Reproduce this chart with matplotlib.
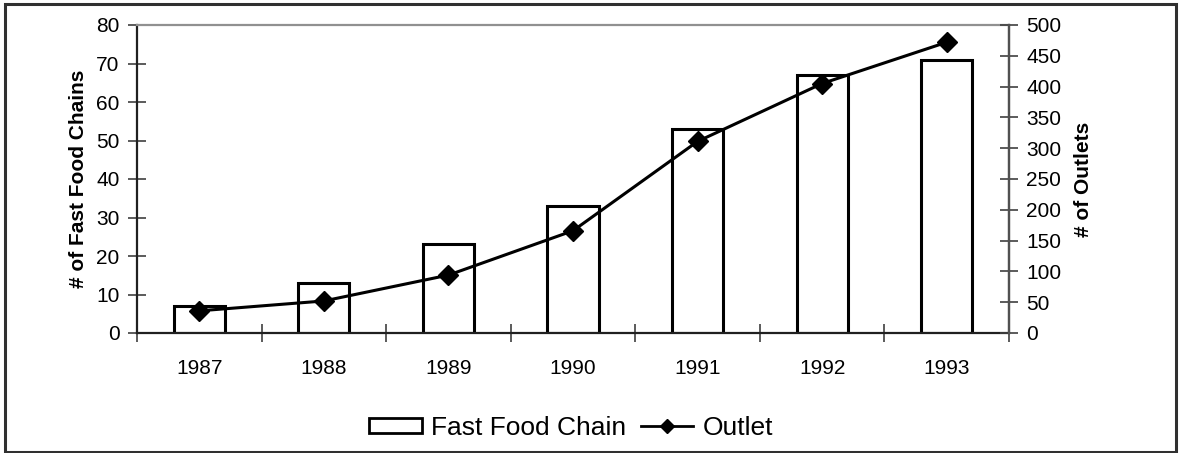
import matplotlib
matplotlib.use("Agg")
import matplotlib.pyplot as plt
from matplotlib.patches import Rectangle
from matplotlib.lines import Line2D
from matplotlib.patches import Patch

years = ["1987", "1988", "1989", "1990", "1991", "1992", "1993"]
chains = [7, 13, 23, 33, 53, 67, 71]
outlets = [36, 52, 94, 166, 311, 405, 472]

plt.rcParams['font.family'] = ['Liberation Sans', 'DejaVu Sans']
FS = 15

W, H = 1179, 453
fig = plt.figure(figsize=(W / 100, H / 100), dpi=100)
ax = fig.add_axes([137 / W, 1 - 333 / H, (1009 - 137) / W, (333 - 25) / H])

x = list(range(len(years)))
ax.bar(x, chains, width=0.41, facecolor='white', edgecolor='black', linewidth=2.2, zorder=2)
ax.set_xlim(-0.5, len(years) - 0.5)
ax.set_ylim(0, 80)
ax.set_yticks(range(0, 81, 10))

ax.set_xticks([i - 0.5 for i in range(len(years) + 1)])
ax.set_xticklabels([])
ax.set_xticks(x, minor=True)
ax.set_xticklabels(years, minor=True)
ax.tick_params(axis='x', which='major', direction='inout', length=13, width=1.2, color='#404040')
ax.tick_params(axis='x', which='minor', length=0, pad=19, labelsize=FS)
ax.tick_params(axis='y', direction='inout', length=13, width=1.2, color='#404040', pad=6, labelsize=FS)

for s in ['left', 'bottom']:
    ax.spines[s].set_color('#202020')
    ax.spines[s].set_linewidth(1.6)
ax.spines['top'].set_color('#909090')
ax.spines['top'].set_linewidth(1.6)
ax.spines['right'].set_color('#505050')
ax.spines['right'].set_linewidth(1.6)

ax.set_ylabel('# of Fast Food Chains', fontsize=15, fontweight='bold', labelpad=6)

ax2 = ax.twinx()
ax2.plot(x, outlets, color='black', linewidth=2.2, marker='D', markersize=10, zorder=3)
ax2.set_ylim(0, 500)
ax2.set_yticks(range(0, 501, 50))
ax2.tick_params(axis='y', direction='inout', length=13, width=1.2, color='#404040', pad=6, labelsize=FS)
ax2.spines['right'].set_color('#505050')
ax2.spines['right'].set_linewidth(1.6)
ax2.spines['top'].set_visible(False)
ax2.spines['left'].set_visible(False)
ax2.spines['bottom'].set_visible(False)
ax2.set_ylabel('# of Outlets', fontsize=15, fontweight='bold', labelpad=9)

handles = [Patch(facecolor='white', edgecolor='black', linewidth=2.0),
           Line2D([0], [0], color='black', linewidth=2.0, marker='D', markersize=7)]
fig.legend(handles, ['Fast Food Chain', 'Outlet'], loc='center', bbox_to_anchor=(571 / W, 1 - 428 / H),
           ncol=2, frameon=False, fontsize=19, handlelength=2.0, handletextpad=0.35,
           columnspacing=0.55, handleheight=0.52)

fig.patches.append(Rectangle((5 / W, 1 / H), (W - 8) / W, (H - 5) / H, transform=fig.transFigure,
                             fill=False, edgecolor='#303030', linewidth=2.2))

fig.savefig('out.png', dpi=100)
